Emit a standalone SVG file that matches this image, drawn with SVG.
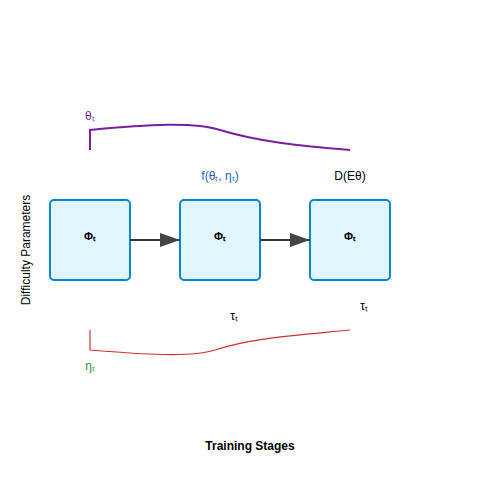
<svg xmlns="http://www.w3.org/2000/svg" width="500" height="500" viewBox="0 0 500 500">
<style>
text{font-family:"Liberation Sans",Arial,sans-serif;font-size:12px}
.node rect{fill:#e1f5fe;stroke:#0288d1;stroke-width:2}
.node text{font-weight:bold;font-size:11px;text-anchor:middle;fill:#000}
.edge{stroke:#333;stroke-width:2;fill:none}
</style>
<defs>
<marker id="arr" viewBox="0 0 10 10" refX="10" refY="5" markerWidth="10" markerHeight="10" markerUnits="userSpaceOnUse" orient="auto">
<path d="M0,0 L10,5 L0,10 z" fill="#444"/>
</marker>
<marker id="arrow" viewBox="0 0 20 14" refX="20" refY="7" markerWidth="20" markerHeight="14" markerUnits="userSpaceOnUse" orient="auto">
<path d="M0,0 L20,7 L0,14 z" fill="#444"/>
</marker>
</defs>
<rect width="500" height="500" fill="#fff"/>
<g id="curves">
<path d="M90,150 V130 C150,124 195,122 220,130 C260,142 300,146 350,150" fill="none" stroke="#7b1fa2" stroke-width="2"/>
<path d="M90,330 V350 C140,354 190,358 215,350 C250,338 300,335 350,330" fill="none" stroke="#d32f2f" stroke-width="1.2"/>
</g>
<g id="node1" class="node"><rect x="50" y="200" width="80" height="80" rx="4"/><text x="90" y="240">Φₜ</text></g>
<g id="node2" class="node"><rect x="180" y="200" width="80" height="80" rx="4"/><text x="220" y="240">Φₜ</text></g>
<g id="node3" class="node"><rect x="310" y="200" width="80" height="80" rx="4"/><text x="350" y="240">Φₜ</text></g>
<g id="connectors">
<line class="edge" x1="130" y1="240" x2="180" y2="240" marker-end="url(#arrow)"/>
<line class="edge" x1="260" y1="240" x2="310" y2="240" marker-end="url(#arrow)"/>
</g>
<g id="labels">
<text x="85" y="120" fill="#7b1fa2" font-size="11">θₜ</text>
<text x="220" y="180" fill="#1565c0" text-anchor="middle">f(θₜ, ηₜ)</text>
<text x="350" y="180" fill="#000" text-anchor="middle">D(Eθ)</text>
<text x="234" y="320" fill="#000" text-anchor="middle" font-size="11">τₜ</text>
<text x="364" y="310" fill="#000" text-anchor="middle" font-size="11">τₜ</text>
<text x="90" y="370" fill="#388e3c" text-anchor="middle" font-size="11">ηₜ</text>
<text x="250" y="450" text-anchor="middle" font-weight="bold">Training Stages</text>
<text x="30" y="250" text-anchor="middle" transform="rotate(-90 30 250)">Difficulty Parameters</text>
</g>
</svg>
